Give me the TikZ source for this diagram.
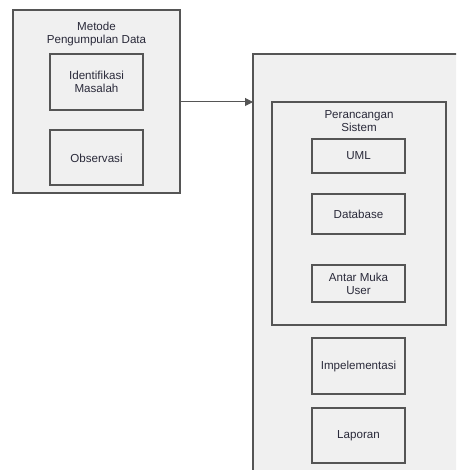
\documentclass[tikz,border=0pt]{standalone}
\usepackage{fontspec}
\setmainfont{Liberation Sans}
\usetikzlibrary{arrows.meta}
\definecolor{boxfill}{HTML}{F0F0F0}
\definecolor{boxline}{HTML}{555555}
\definecolor{txt}{HTML}{2A2A3A}
\begin{document}
\begin{tikzpicture}[x=1pt,y=-1pt,
  box/.style={draw=boxline,fill=boxfill,line width=1.3pt},
  lbl/.style={font=\fontsize{11.6}{13}\selectfont,text=txt,align=center,inner sep=0pt},
  conn/.style={draw=boxline,line width=1pt,-{Triangle[length=8pt,width=8pt]}}]
\useasboundingbox (0,0) rectangle (456,470);
\clip (0,0) rectangle (456,470);
\fill[white] (0,0) rectangle (456,470);
% left group
\path[box] (13,10) rectangle (180,193) coordinate (lbr);
\coordinate (lout) at (180,102);
\node[lbl] (t1) at (96.5,34) {Metode\\Pengumpulan Data};
\path[box] (50,54) rectangle (143,110);
\node[lbl] (ident) at (96.5,82) {Identifikasi\\Masalah};
\path[box] (50,130) rectangle (143,185);
\node[lbl] (obs) at (96.5,158) {Observasi};
% right group
\path[box] (253,54) rectangle (470,480);
\coordinate (rin) at (253,102);
\path[box] (272,102) rectangle (446,325);
\node[lbl] (t2) at (359,121) {Perancangan\\Sistem};
\path[box] (312,139) rectangle (405,173);
\node[lbl] (uml) at (358.5,156) {UML};
\path[box] (312,194) rectangle (405,234);
\node[lbl] (db) at (358.5,214) {Database};
\path[box] (312,265) rectangle (405,302);
\node[lbl] (amu) at (358.5,283.5) {Antar Muka\\User};
\path[box] (312,338) rectangle (405,394);
\node[lbl] (imp) at (358.5,366) {Impelementasi};
\path[box] (312,408) rectangle (405,463);
\node[lbl] (lap) at (358.5,435.5) {Laporan};
% connector
\draw[conn] (lout) -- (rin);
\end{tikzpicture}
\end{document}
